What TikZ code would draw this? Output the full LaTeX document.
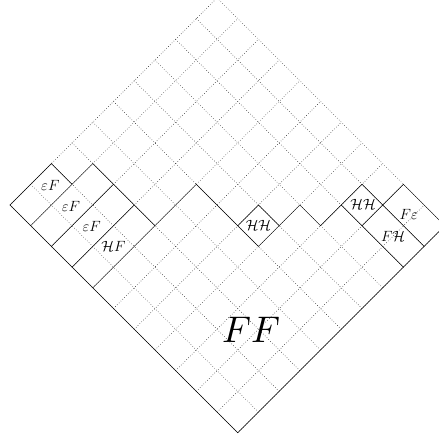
\documentclass[tikz,border=0pt]{standalone}
\usepackage{amsmath}
\usepackage{amssymb}
\usepackage{tikz}

\begin{document}
\begin{tikzpicture}[
                grid line/.style={dotted, black, line width=0.5pt},
                wall/.style={draw, black, line width=0.5pt},
                lab/.style={inner sep=0pt, font=\Large},
                big/.style={inner sep=0pt, scale=3.6}
            ]
                \clip (-0.34,-7.96) rectangle (14.65,7.00);
                \begin{scope}[rotate=-45]
                    % dotted lattice
                    \foreach \i in {0,...,11} \draw[grid line] (\i,0) -- (\i,10);
                    \foreach \j in {0,...,10} \draw[grid line] (0,\j) -- (11,\j);
                    % outline of the big region
                    \draw[wall] (0,0) -- (0,2) -- (1,2) -- (1,3) -- (4,3) -- (4,5) -- (6,5)
                        -- (6,6) -- (7,6) -- (7,7) -- (8,7) -- (8,8) -- (8,9) -- (9,9)
                        -- (9,10) -- (11,10) -- (11,0) -- cycle;
                    % left strips
                    \draw[wall] (1,0) -- (1,2);
                    \foreach \i in {2,3,4} \draw[wall] (\i,0) -- (\i,3);
                    % the two small cells
                    \draw[wall] (6,5) -- (7,5) -- (7,6);
                    \draw[wall] (8,8) -- (9,8) -- (9,9);
                    % right strips
                    \draw[wall] (9,9) -- (11,9);
                    \draw[wall] (9,8) -- (11,8);
                    % labels
                    \node[lab] (eF1) at (0.5,1.45) {$\varepsilon F$};
                    \node[lab] (eF2) at (1.5,1.45) {$\varepsilon F$};
                    \node[lab] (eF3) at (2.5,1.45) {$\varepsilon F$};
                    \node[lab] (HF) at (3.5,1.5) {$\mathcal{H}F$};
                    \node[lab] (HHmid) at (6.5,5.5) {$\mathcal{H}\mathcal{H}$};
                    \node[lab] (HHright) at (8.5,8.55) {$\mathcal{H}\mathcal{H}$};
                    \node[lab] (FH) at (10,8.5) {$F\mathcal{H}$};
                    \node[lab] (Fe) at (9.86,9.4) {$F\varepsilon$};
                    \node[big] (FF) at (8.85,2.8) {$FF$};
                \end{scope}
            \end{tikzpicture}
\end{document}
